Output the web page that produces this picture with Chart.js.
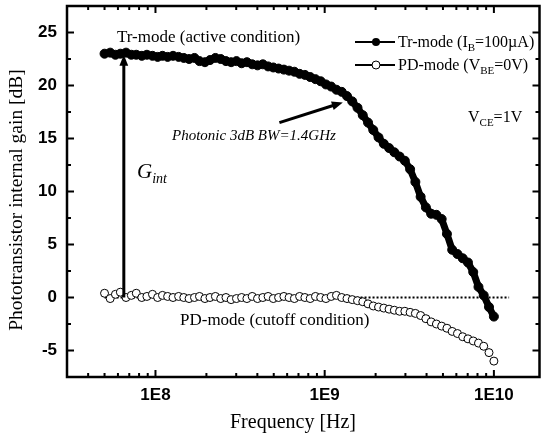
<!DOCTYPE html>
<html>
<head>
<meta charset="utf-8">
<script src="https://cdn.jsdelivr.net/npm/chart.js@4.4.0/dist/chart.umd.min.js"></script>
<style>
body{margin:0;background:#fff;}
</style>
</head>
<body>
<canvas id="chartgain" width="545" height="437"></canvas>
<script>
// measured frequency points [MHz]
var freqMHz = [50, 54, 58, 62, 67, 72, 77, 83, 89, 96, 103, 110, 118, 127, 137, 147, 158, 170, 182, 196,
    210, 226, 243, 261, 280, 301, 323, 347, 373, 401, 431, 463, 497, 534, 574, 616, 662, 711, 764, 821,
    882, 947, 1017, 1093, 1174, 1261, 1355, 1455, 1563, 1679, 1804, 1937, 2081, 2236, 2402, 2580, 2771, 2977, 3198, 3435,
    3690, 3964, 4258, 4574, 4913, 5278, 5669, 6090, 6542, 7027, 7548, 8108, 8710, 9356, 10000];
// Tr-mode (IB=100uA) gain [dB]
var trGain = [23.0, 23.1, 22.9, 23.0, 23.1, 22.9, 22.9, 22.8, 22.9, 22.8, 22.7, 22.8, 22.7, 22.8, 22.7, 22.6, 22.5, 22.6, 22.3, 22.2,
    22.4, 22.6, 22.5, 22.3, 22.2, 22.3, 22.1, 22.2, 22.0, 21.9, 22.0, 21.8, 21.7, 21.6, 21.5, 21.4, 21.3, 21.1, 21.0, 20.8,
    20.6, 20.4, 20.1, 19.9, 19.6, 19.4, 19.0, 18.5, 17.9, 17.2, 16.5, 15.8, 15.1, 14.5, 14.1, 13.7, 13.3, 12.9, 12.1, 10.9,
    9.5, 8.5, 7.9, 7.8, 7.4, 6.0, 4.5, 4.1, 3.7, 3.3, 2.4, 1.0, 0.2, -0.9, -1.8];
// PD-mode (VBE=0V) gain [dB]
var pdGain = [0.4, -0.1, 0.3, 0.5, 0.0, 0.2, 0.4, 0.0, 0.1, 0.3, 0.0, 0.2, 0.1, 0.0, 0.1, 0.0, -0.1, 0.0, 0.1, -0.1,
    0.0, 0.1, -0.1, 0.0, -0.2, -0.1, 0.0, -0.1, 0.1, -0.1, 0.0, 0.1, -0.1, 0.0, 0.1, 0.0, -0.1, 0.1, 0.0, -0.1,
    0.1, 0.0, -0.1, 0.1, 0.2, 0.0, -0.1, -0.2, -0.3, -0.4, -0.6, -0.8, -0.9, -1.0, -1.1, -1.2, -1.3, -1.3, -1.4, -1.5,
    -1.7, -2.0, -2.3, -2.5, -2.7, -2.9, -3.2, -3.4, -3.7, -3.9, -4.1, -4.3, -4.6, -5.2, -6.0];
var refLineMHz = [50, 12300];
var refLineGain = [0, 0];

var xMajorTicks = [1e8, 1e9, 1e10];
var xTickLabels = ['1E8', '1E9', '1E10'];
var xMinorTicks = [4e7, 5e7, 6e7, 7e7, 8e7, 9e7, 2e8, 3e8, 4e8, 5e8, 6e8, 7e8, 8e8, 9e8,
    2e9, 3e9, 4e9, 5e9, 6e9, 7e9, 8e9, 9e9];
var yMajorTicks = [-5, 0, 5, 10, 15, 20, 25];
var yMinorTicks = [-2.5, 2.5, 7.5, 12.5, 17.5, 22.5];

var serif = '"Liberation Serif", "Times New Roman", serif';
var sans = '"Liberation Sans", Arial, sans-serif';

function toPoints(fx, gy) {
    var pts = [];
    for (var i = 0; i < fx.length; i++) {
        pts.push({x: fx[i] * 1e6, y: gy[i]});
    }
    return pts;
}

function drawArrow(ctx, x1, y1, x2, y2, head) {
    var a = Math.atan2(y2 - y1, x2 - x1);
    ctx.beginPath();
    ctx.moveTo(x1, y1);
    ctx.lineTo(x2 - Math.cos(a) * head * 0.7, y2 - Math.sin(a) * head * 0.7);
    ctx.stroke();
    ctx.beginPath();
    ctx.moveTo(x2, y2);
    ctx.lineTo(x2 - head * Math.cos(a) + head * 0.4 * Math.sin(a), y2 - head * Math.sin(a) - head * 0.4 * Math.cos(a));
    ctx.lineTo(x2 - head * Math.cos(a) - head * 0.4 * Math.sin(a), y2 - head * Math.sin(a) + head * 0.4 * Math.cos(a));
    ctx.closePath();
    ctx.fill();
}

// text with subscripts: parts = [[text, isSub], ...]
function drawSubText(ctx, x, y, parts, size, italic) {
    var style = italic ? 'italic ' : '';
    for (var i = 0; i < parts.length; i++) {
        var sub = parts[i][1];
        ctx.font = style + (sub ? Math.round(size * 0.68) : size) + 'px ' + serif;
        ctx.fillText(parts[i][0], x, sub ? y + size * 0.22 : y);
        x += ctx.measureText(parts[i][0]).width;
    }
}

var decoPlugin = {
    id: 'deco',
    afterDatasetsDraw: function (chart) {
        var ctx = chart.ctx;
        var xs = chart.scales.x, ys = chart.scales.y;
        ctx.save();
        ctx.fillStyle = '#000';
        ctx.strokeStyle = '#000';
        ctx.lineWidth = 3;
        // G_int arrow
        drawArrow(ctx, xs.getPixelForValue(6.5e7), ys.getPixelForValue(0),
            xs.getPixelForValue(6.5e7), ys.getPixelForValue(22.9), 11);
        // bandwidth arrow
        drawArrow(ctx, xs.getPixelForValue(5.4e8), ys.getPixelForValue(16.5),
            xs.getPixelForValue(1.28e9), ys.getPixelForValue(18.4), 11);
        ctx.restore();
    },
    afterDraw: function (chart) {
        var ctx = chart.ctx;
        var a = chart.chartArea;
        var xs = chart.scales.x, ys = chart.scales.y;
        ctx.save();
        ctx.strokeStyle = '#000';
        ctx.fillStyle = '#000';
        // frame
        ctx.lineWidth = 2.5;
        ctx.strokeRect(a.left, a.top, a.right - a.left, a.bottom - a.top);
        // inward ticks, mirrored
        ctx.lineWidth = 2;
        ctx.beginPath();
        xMajorTicks.concat(xMinorTicks).forEach(function (v) {
            var px = xs.getPixelForValue(v);
            var len = xMajorTicks.indexOf(v) >= 0 ? 7 : 4;
            ctx.moveTo(px, a.bottom); ctx.lineTo(px, a.bottom - len);
            ctx.moveTo(px, a.top); ctx.lineTo(px, a.top + len);
        });
        yMajorTicks.concat(yMinorTicks).forEach(function (v) {
            var py = ys.getPixelForValue(v);
            var len = yMajorTicks.indexOf(v) >= 0 ? 7 : 4;
            ctx.moveTo(a.left, py); ctx.lineTo(a.left + len, py);
            ctx.moveTo(a.right, py); ctx.lineTo(a.right - len, py);
        });
        ctx.stroke();

        // axis titles
        ctx.textAlign = 'center';
        ctx.textBaseline = 'middle';
        ctx.font = '20px ' + serif;
        ctx.fillText('Frequency [Hz]', 293, 423);
        ctx.save();
        ctx.translate(17, 200);
        ctx.rotate(-Math.PI / 2);
        ctx.font = '19.5px ' + serif;
        ctx.fillText('Phototransistor internal gain [dB]', 0, 0);
        ctx.restore();

        // annotations
        ctx.textBaseline = 'alphabetic';
        ctx.textAlign = 'left';
        ctx.font = '17px ' + serif;
        ctx.fillText('Tr-mode (active condition)', 117, 42);
        ctx.fillText('PD-mode (cutoff condition)', 180, 325);
        ctx.font = 'italic 15px ' + serif;
        ctx.fillText('Photonic 3dB BW=1.4GHz', 172, 140);
        drawSubText(ctx, 137, 178, [['G', false], ['int', true]], 21, true);
        drawSubText(ctx, 468, 122, [['V', false], ['CE', true], ['=1V', false]], 16, false);

        // legend
        ctx.lineWidth = 2;
        ctx.beginPath();
        ctx.moveTo(355, 42); ctx.lineTo(395, 42);
        ctx.moveTo(355, 65); ctx.lineTo(395, 65);
        ctx.stroke();
        ctx.beginPath();
        ctx.arc(376, 42, 4, 0, Math.PI * 2);
        ctx.fill();
        ctx.beginPath();
        ctx.fillStyle = '#fff';
        ctx.lineWidth = 1;
        ctx.arc(376, 65, 4, 0, Math.PI * 2);
        ctx.fill();
        ctx.stroke();
        ctx.fillStyle = '#000';
        drawSubText(ctx, 398, 47, [['Tr-mode (I', false], ['B', true], ['=100\u00b5A)', false]], 16, false);
        drawSubText(ctx, 398, 70, [['PD-mode (V', false], ['BE', true], ['=0V)', false]], 16, false);
        ctx.restore();
    }
};

var chart = new Chart(document.getElementById('chartgain').getContext('2d'), {
    type: 'scatter',
    data: {
        datasets: [{
            label: 'Tr-mode',
            data: toPoints(freqMHz, trGain),
            showLine: true,
            borderColor: '#000',
            borderWidth: 7,
            pointRadius: 4.5,
            pointBackgroundColor: '#000',
            pointBorderColor: '#000',
            pointBorderWidth: 1
        }, {
            label: 'PD-mode',
            data: toPoints(freqMHz, pdGain),
            showLine: false,
            pointRadius: 4,
            pointBackgroundColor: '#fff',
            pointBorderColor: '#000',
            pointBorderWidth: 1
        }, {
            label: 'ref',
            data: toPoints(refLineMHz, refLineGain),
            showLine: true,
            borderColor: '#000',
            borderWidth: 2,
            borderDash: [2, 2],
            pointRadius: 0
        }]
    },
    options: {
        responsive: false,
        animation: false,
        layout: {padding: {top: 6, right: 2, left: 0, bottom: 0}},
        plugins: {
            legend: {display: false},
            tooltip: {enabled: false}
        },
        scales: {
            x: {
                type: 'logarithmic',
                min: 3e7,
                max: 1.86e10,
                afterFit: function (s) {
                    s.height = 60;
                    s.paddingLeft = 0;
                    s.paddingRight = 0;
                },
                afterBuildTicks: function (s) {
                    s.ticks = xMajorTicks.map(function (v) { return {value: v}; });
                },
                grid: {display: false, drawTicks: false},
                border: {display: false},
                ticks: {
                    autoSkip: false,
                    maxRotation: 0,
                    padding: 8,
                    color: '#000',
                    font: {family: sans, size: 17, weight: 'bold'},
                    callback: function (v) {
                        var i = xMajorTicks.indexOf(v);
                        return i >= 0 ? xTickLabels[i] : '';
                    }
                }
            },
            y: {
                min: -7.5,
                max: 27.5,
                afterFit: function (s) {
                    s.width = 67;
                    s.paddingTop = 0;
                    s.paddingBottom = 0;
                },
                afterBuildTicks: function (s) {
                    s.ticks = yMajorTicks.map(function (v) { return {value: v}; });
                },
                grid: {display: false, drawTicks: false},
                border: {display: false},
                ticks: {
                    padding: 10,
                    color: '#000',
                    font: {family: sans, size: 17, weight: 'bold'},
                    callback: function (v) { return String(v); }
                }
            }
        }
    },
    plugins: [decoPlugin]
});
</script>
</body>
</html>
